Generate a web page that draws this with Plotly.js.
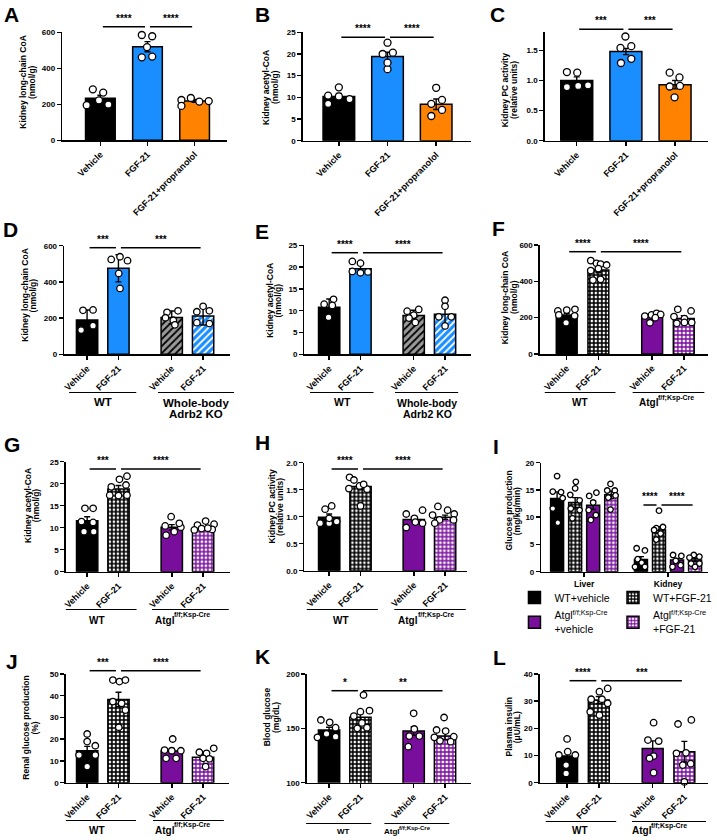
<!DOCTYPE html>
<html><head><meta charset="utf-8">
<script src="https://cdn.plot.ly/plotly-3.0.1.min.js"></script>
<style>body{margin:0;background:#fff}#chart{width:717px;height:840px}</style>
</head><body><div id="chart"></div>
<script>
// ================= DATA =================
const ABC_ticks = ['Vehicle','FGF-21','FGF-21+propranolol'];
const GRP_ticks = ['Vehicle','FGF-21','Vehicle','FGF-21'];
const I_ticks = ['Liver','Kidney'];
const GENO_SUP = 'f/f;Ksp-Cre';
const I_series = ['WT+vehicle','WT+FGF-21','Atgl<sup>' + GENO_SUP + '</sup><br>+vehicle','Atgl<sup>' + GENO_SUP + '</sup><br>+FGF-21'];
const ADRB_groups = ['WT','Whole-body','Adrb2 KO'];
const ATGL_groups = ['WT','Atgl',GENO_SUP];

const A_mean = [233, 520, 219];
const A_err = [17, 28, 8];
const A_pts = [[283,265,195,222,199],[585,578,461,465,518],[224,235,191,215,218]];
const A_jit = [[-0.16,0.06,-0.29,-0.03,0.17],[-0.12,0.10,-0.12,0.10,-0.01],[-0.28,-0.08,-0.28,0.10,0.30]];
const A_sig = [['****',0,1],['****',1,2]];

const B_mean = [10.2, 19.4, 8.4];
const B_err = [0.7, 1.0, 1.2];
const B_pts = [[12.3,10.4,10.2,9.6,8.5],[22.6,20.0,20.3,16.5,18.0],[12.2,8.5,9.4,5.7,7.1]];
const B_jit = [[0,-0.22,0,0.22,-0.22],[0,-0.10,0.11,0,0],[0,-0.10,0.12,-0.10,0.12]];
const B_sig = [['****',0,1],['****',1,2]];

const C_mean = [1.0, 1.48, 0.93];
const C_err = [0.06, 0.05, 0.07];
const C_pts = [[1.14,1.13,0.89,0.91,0.92],[1.73,1.54,1.57,1.29,1.36],[1.13,1.05,0.90,0.91,0.72]];
const C_jit = [[-0.20,0.01,-0.20,0.03,0.23],[-0.01,-0.11,0.11,-0.10,0.11],[-0.11,0.09,-0.11,0.10,-0.01]];
const C_sig = [['***',0,1],['***',1,2]];

const D_mean = [190, 475, 204, 212];
const D_err = [55, 75, 35, 50];
const D_pts = [[243,245,134,158],[524,539,517,447,364],[232,240,202,188,163],[265,235,240,175,170]];
const D_jit = [[-0.13,0.19,-0.19,0.19],[-0.23,0.05,0.29,0.01,0.05],[-0.15,0.2,-0.2,0.05,0.1],[0,-0.2,0.2,-0.2,0.2]];
const D_sig = [['***',0,1],['***',1,3]];

const E_mean = [10.8, 19.6, 8.9, 9.2];
const E_err = [1.9, 1.1, 1.2, 2.3];
const E_pts = [[11.5,12.6,8.5,11.2],[21.3,20.9,19.0,18.7,18.9],[9.9,10.3,9.0,8.3,7.3],[12.4,11.0,8.6,8.6,6.5]];
const E_jit = [[-0.16,0.14,-0.02,0.1],[-0.26,0,-0.26,0,0.24],[-0.21,0.16,0,-0.15,0.05],[0,0,-0.2,0.2,0]];
const E_sig = [['****',0,1],['****',1,3]];

const F_mean = [215, 462, 209, 196];
const F_err = [9, 15, 8, 15];
const F_pts = [[237,242,246,215,210,172],[514,499,495,490,459,470,407,411],[209,215,224,218,172,200],[246,237,206,195,174,174,169]];
const F_jit = [[-0.28,0,0.26,-0.25,0.25,-0.02],[-0.24,-0.06,0.07,0.26,-0.24,0.0,-0.17,0.07],[-0.23,-0.02,0.14,0.27,-0.07,0.1],[-0.19,0.23,-0.31,0.02,0.02,0.25,-0.22]];
const F_sig = [['****',0,1],['****',1,3]];

const G_mean = [11.6, 18.8, 10.1, 9.85];
const G_err = [0.9, 0.8, 0.6, 0.3];
const G_pts = [[14.4,14.4,11.4,11.2,9.1,9.1],[19.3,21.0,21.7,19.7,17.4,17.4,17.3],[12.5,10.4,10.1,8.3,9.1,11.0],[11.5,10.6,10.8,9.8,9.6,9.5,9.9]];
const G_jit = [[-0.07,0.19,-0.18,0.19,-0.1,0.21],[-0.23,0.03,0.27,0.24,0.27,-0.28,0.0],[-0.02,-0.21,0.29,-0.18,0.08,0.24],[0.08,-0.18,0.35,-0.05,0.29,-0.28,0.15]];
const G_sig = [['***',0,1],['****',1,3]];

const H_mean = [0.99, 1.56, 0.95, 0.99];
const H_err = [0.06, 0.06, 0.05, 0.04];
const H_pts = [[1.14,1.2,0.88,0.88,0.91,0.97],[1.73,1.68,1.57,1.51,1.52,1.2,1.6],[1.05,1.12,0.97,0.8,0.88,0.9],[1.19,1.12,1.05,1.03,0.94,0.94,0.88]];
const H_jit = [[-0.13,0.08,-0.29,0.0,0.24,0],[-0.35,-0.21,-0.03,0.21,-0.37,0.0,0.1],[-0.24,0.28,0.02,-0.24,0.28,0.05],[-0.23,0.08,0.29,-0.4,-0.18,0.27,-0.33]];
const H_sig = [['****',0,1],['****',1,3]];

// I: per series [liver, kidney]
const I_mean = [[13.45,2.26],[12.7,7.65],[12.2,2.14],[14.1,2.14]];
const I_err = [[1.2,0.5],[0.9,0.6],[0.8,0.3],[0.7,0.3]];
const I_pts = [
  [[17.55,14.7,14.6,13.5,11.6,9.0],[4.3,3.9,2.3,1.65,0.9,0.9]],
  [[16.5,15.3,14.1,13.1,11.6,11.3,9.8],[11.2,8.0,8.2,7.65,7.0,5.9]],
  [[14.5,13.9,12.7,11.3,10.4,9.5],[3.06,2.9,2.0,1.2,0.9]],
  [[16.1,14.9,14.9,13.6,14.0,11.4],[3.06,2.6,2.75,1.5,1.5,0.9]]
];
const I_jit = [
  [[0,-0.24,0.22,0.31,-0.24,0.04],[-0.24,0.22,-0.18,0.04,-0.33,0.22]],
  [[0.04,0,-0.27,0.25,-0.24,0.25,-0.15],[0,-0.15,0.22,-0.27,0.09,-0.15]],
  [[0.18,-0.22,0,-0.25,0.15,-0.13],[-0.22,0.24,-0.07,0.2,-0.25]],
  [[-0.04,-0.22,0.2,-0.16,0.24,-0.04],[-0.07,-0.31,0.24,-0.22,0.24,0]]
];
const I_sig = [['****',4.65,5.65],['****',5.65,7.65]];

const J_mean = [14.7, 38.3, 14.6, 11.7];
const J_err = [2.0, 3.3, 1.2, 1.4];
const J_pts = [[22.4,18.9,17.0,12.7,12.7,7.4],[47.2,46.5,47.2,37.3,36.5,33.4,25.5],[20.1,15.0,14.7,14.7,11.2,11.2],[15.8,13.5,14.0,11.2,11.0,7.4]];
const J_jit = [[0,0,0.26,-0.26,0.26,0],[-0.18,0.03,0.22,-0.18,0.1,0.22,0.01],[0.03,-0.23,0,0.29,-0.18,0.14],[0.34,0.11,-0.12,0.0,0.2,0.08]];
const J_sig = [['***',0,1],['****',1,3]];

const K_mean = [148.5, 160.1, 147.5, 143];
const K_err = [2.5, 3.2, 4, 3.2];
const K_pts = [[157.7,155.5,150.6,141.7,142.3,145],[180.7,165.3,166.3,161.3,150,150.6,155],[163.8,149.4,142.9,142.9,133.1],[160,148.5,147.5,141.7,142.3,138.5,137.7]];
const K_jit = [[-0.26,0.02,0.21,-0.37,0.21,-0.08],[0.1,0,0.29,-0.21,-0.1,0.21,0.05],[0,0.02,-0.14,0.18,-0.17],[-0.03,-0.27,0.02,-0.34,0.28,-0.16,0.18]];
const K_sig = [['*',0,1],['**',1,3]];

const L_mean = [9.8, 30.4, 12.6, 11.4];
const L_err = [1.7, 1.3, 2.8, 3.8];
const L_pts = [[16.1,11.4,10.2,10.2,6.5,3.4],[34.7,33.5,30.7,30.7,29.2,26.1,24.9],[22.1,15.7,15.3,9.8,3.7,9.0],[21.6,23.1,11.0,10.8,7.0,6.5,0.3]];
const L_jit = [[0,0.02,-0.26,0.26,-0.03,-0.03],[0.28,0.02,-0.24,0.1,0.28,-0.27,0.02],[0.03,-0.15,0.19,0.03,0.03,-0.1],[-0.2,0.22,0.05,-0.25,0.2,-0.05,0.0]];
const L_sig = [['****',0,1],['***',1,3]];

// ================= STYLE / GEOMETRY =================
const W = 717, H = 840;
const FONT = 'Liberation Sans, Arial, sans-serif';
const BLUE = '#1B8EFF', ORANGE = '#FF8200', PURPLE = '#7A0E9C', GRAY = '#9a9a9a';
const ST = {
  black: {color:'#000'},
  blue: {color:BLUE},
  orange: {color:ORANGE},
  purple: {color:PURPLE},
  hatchGray: {color:GRAY, pattern:{shape:'/', fgcolor:'#000', bgcolor:GRAY, size:5, solidity:0.35}},
  hatchBlue: {color:BLUE, pattern:{shape:'/', fgcolor:'#fff', bgcolor:BLUE, size:5, solidity:0.35}},
  checkBlack: {color:'#555', pattern:{shape:'+', fgcolor:'#000', bgcolor:'#fff', size:4, solidity:0.66}},
  checkPurple: {color:'#b070c8', pattern:{shape:'+', fgcolor:PURPLE, bgcolor:'#fff', size:4, solidity:0.6}}
};
const POS3 = [0,1,2], POS4 = [0,1,2.7,3.7];

// group label placement: [x, y, fontsize, xanchor] per entry of the groups text array
const ATGL_place = (wtx, split, y, fs, sfs) => [[wtx,y,fs,'center'],[split+2.5,y,fs,'right'],[split-2.5,y-0.5*fs,sfs,'left']];

const PANELS = [
 {id:'A', L:63, R:230, T:32.3, B:140.3, xr:[-0.81,2.69], yr:[0,600], yt:[0,200,400,600], pos:POS3, bw:0.63, ms:7,
  ticks:ABC_ticks, mean:A_mean, err:A_err, pts:A_pts, jit:A_jit, sig:A_sig, sigY:26.7, styles:['black','blue','orange'],
  ytitle:['Kidney long-chain CoA','(nmol/g)'], yx:[23,32.5], yy:82, letter:[2,5]},
 {id:'B', L:306.7, R:476.7, T:32.3, B:140.7, xr:[-0.74,2.71], yr:[0,25], yt:[0,5,10,15,20,25], pos:POS3, bw:0.65, ms:7,
  ticks:ABC_ticks, mean:B_mean, err:B_err, pts:B_pts, jit:B_jit, sig:B_sig, sigY:37.3, styles:['black','blue','orange'],
  ytitle:['Kidney acetyl-CoA','(nmol/g)'], yx:[269.3,278.5], yy:87, letter:[256,5]},
 {id:'C', L:551.7, R:716.5, T:32.3, B:140.7, xr:[-0.65,2.66], yr:[0,1.8], yt:[0,0.5,1,1.5], ytt:['0.0','0.5','1.0','1.5'], pos:POS3, bw:0.65, ms:7,
  ticks:ABC_ticks, mean:C_mean, err:C_err, pts:C_pts, jit:C_jit, sig:C_sig, sigY:29.3, styles:['black','blue','orange'],
  ytitle:['Kidney PC activity','(relative units)'], yx:[511.7,520.5], yy:90, letter:[494,5]},
 {id:'D', L:65, R:233.3, T:245.7, B:354.3, xr:[-0.73,4.57], yr:[0,600], yt:[0,200,400,600], pos:POS4, bw:0.68, ms:6.5,
  ticks:GRP_ticks, mean:D_mean, err:D_err, pts:D_pts, jit:D_jit, sig:D_sig, sigY:247.7, styles:['black','blue','hatchGray','hatchBlue'],
  ytitle:['Kidney long-chain CoA','(nmol/g)'], yx:[25,33.8], yy:295, letter:[1,220],
  groups:ADRB_groups, gl:[[70,138],[160,237]], gy:392.5, gtxt:[[104,401.7,11.5,'center'],[198,402.5,11.5,'center'],[198,414,11.5,'center']]},
 {id:'E', L:308.3, R:476.7, T:245.3, B:354.3, xr:[-0.79,4.52], yr:[0,25], yt:[0,5,10,15,20,25], pos:POS4, bw:0.68, ms:6.5,
  ticks:GRP_ticks, mean:E_mean, err:E_err, pts:E_pts, jit:E_jit, sig:E_sig, sigY:252.7, styles:['black','blue','hatchGray','hatchBlue'],
  ytitle:['Kidney acetyl-CoA','(nmol/g)'], yx:[273.3,282], yy:300, letter:[256,222],
  groups:ADRB_groups, gl:[[314,378.3],[400,464]], gy:392.5, gtxt:[[346.7,402.3,10.5,'center'],[432.7,402.5,10.5,'center'],[432.7,413.5,10.5,'center']]},
 {id:'F', L:546.7, R:716.5, T:245, B:354, xr:[-0.85,4.45], yr:[0,600], yt:[0,200,400,600], pos:POS4, bw:0.66, ms:6.5,
  ticks:GRP_ticks, mean:F_mean, err:F_err, pts:F_pts, jit:F_jit, sig:F_sig, sigY:251.7, styles:['black','checkBlack','purple','checkPurple'],
  ytitle:['Kidney long-chain CoA','(nmol/g)'], yx:[511.7,520.5], yy:297, letter:[496,219],
  groups:ATGL_groups, gl:[[551.7,623.3],[640.7,713.3]], gy:392.5, gtxt:ATGL_place(587.3,666.7,402.7,10,7)},
 {id:'G', L:66.7, R:233.3, T:461.7, B:571.7, xr:[-0.68,4.57], yr:[0,25], yt:[0,5,10,15,20,25], pos:POS4, bw:0.68, ms:6.5,
  ticks:GRP_ticks, mean:G_mean, err:G_err, pts:G_pts, jit:G_jit, sig:G_sig, sigY:469, styles:['black','checkBlack','purple','checkPurple'],
  ytitle:['Kidney acetyl-CoA','(nmol/g)'], yx:[28.3,36.8], yy:505, letter:[2,435],
  groups:ATGL_groups, gl:[[66.7,138.3],[154,231.7]], gy:609.5, gtxt:ATGL_place(98.3,176.7,620,10,7)},
 {id:'H', L:308.3, R:473.3, T:462.7, B:570.7, xr:[-0.79,4.41], yr:[0,2], yt:[0,0.5,1,1.5,2], ytt:['0.0','0.5','1.0','1.5','2.0'], pos:POS4, bw:0.68, ms:6.5,
  ticks:GRP_ticks, mean:H_mean, err:H_err, pts:H_pts, jit:H_jit, sig:H_sig, sigY:469, styles:['black','checkBlack','purple','checkPurple'],
  ytitle:['Kidney PC activity','(relative units)'], yx:[275,283.5], yy:507, letter:[256,433],
  groups:ATGL_groups, gl:[[310.7,382.7],[399.3,471.7]], gy:609.5, gtxt:ATGL_place(345,423.3,620,10,7)},
 {id:'I', L:548.3, R:716.5, T:462.7, B:571.7, xr:[-0.87,8.34], yr:[0,20], yt:[0,5,10,15,20], ms:5.5, bw:0.72,
  ipos:[[0,4.65],[1,5.65],[2,6.65],[3,7.65]], itick:[1.5,6.15], sig:I_sig, sigY:505, styles:['black','checkBlack','purple','checkPurple'],
  ytitle:['Glucose production','(mg/kg/min)'], yx:[515,523.8], yy:511, letter:[497,437],
  legX:[521,621]},
 {id:'J', L:66.7, R:231.7, T:674, B:782.7, xr:[-0.68,4.52], yr:[0,50], yt:[0,10,20,30,40,50], pos:POS4, bw:0.68, ms:6.5,
  ticks:GRP_ticks, mean:J_mean, err:J_err, pts:J_pts, jit:J_jit, sig:J_sig, sigY:670.7, styles:['black','checkBlack','purple','checkPurple'],
  ytitle:['Renal glucose production','(%)'], yx:[26,35], yy:728, letter:[4,652],
  groups:ATGL_groups, gl:[[66.7,137.7],[155,226.7]], gy:820.5, gtxt:ATGL_place(98.3,176.7,830,10,7)},
 {id:'K', L:310.7, R:476.7, T:674, B:782.7, xr:[-0.71,4.52], yr:[100,200], yt:[100,150,200], pos:POS4, bw:0.68, ms:6.5,
  ticks:GRP_ticks, mean:K_mean, err:K_err, pts:K_pts, jit:K_jit, sig:K_sig, sigY:690.7, styles:['black','checkBlack','purple','checkPurple'],
  ytitle:['Blood glucose','(mg/dL)'], yx:[270.7,279.5], yy:717, letter:[256,647],
  groups:ATGL_groups, gl:[[310,376],[389.3,455]], gy:823.5, gtxt:ATGL_place(348.3,405,831.7,8,6)},
 {id:'L', L:546.7, R:716.5, T:674, B:782.7, xr:[-0.86,4.43], yr:[0,40], yt:[0,10,20,30,40], pos:POS4, bw:0.66, ms:6.5,
  ticks:GRP_ticks, mean:L_mean, err:L_err, pts:L_pts, jit:L_jit, sig:L_sig, sigY:680.7, styles:['black','checkBlack','purple','checkPurple'],
  ytitle:['Plasma insulin','(\u03bcU/mL)'], yx:[515,523.8], yy:727, letter:[497,648],
  groups:ATGL_groups, gl:[[552.7,624],[640,715]], gy:821.5, gtxt:ATGL_place(587.3,660,830.7,10,7)}
];

// ================= BUILD =================
const data = [];
const LEGFONT = {size:10.5, family:FONT, color:'#000'};
const PI = PANELS.find(p => p.id === 'I');
const legendBase = {xanchor:'left', y:1-583/H, yanchor:'top', bgcolor:'rgba(0,0,0,0)', font:LEGFONT, itemwidth:30, tracegroupgap:0, itemclick:false, itemdoubleclick:false};
const layout = {
  width:W, height:H, margin:{l:0,r:0,t:0,b:0}, barmode:'overlay',
  paper_bgcolor:'#fff', plot_bgcolor:'rgba(0,0,0,0)',
  font:{family:FONT, color:'#000'}, shapes:[], annotations:[], showlegend:true,
  legend:Object.assign({x:PI.legX[0]/W}, legendBase),
  legend2:Object.assign({x:PI.legX[1]/W}, legendBase)
};
const ny = v => 1 - v/H, nx = v => v/W;
const BOLD = {family:FONT, weight:'bold', color:'#000'};

function barMarker(st){
  const s = ST[st];
  const m = {color:s.color, line:{color:'#000', width:1.5}};
  if (s.pattern) m.pattern = Object.assign({fillmode:'replace'}, s.pattern);
  return m;
}
function ptMarker(ms){ return {symbol:'circle', size:ms, color:'#fff', line:{color:'#000', width:1.3}}; }
function errObj(v){ return {type:'data', array:v, color:'#000', thickness:1.4, width:3, visible:true}; }
function ann(x, y, text, font, extra){
  return Object.assign({xref:'paper', yref:'paper', x:nx(x), y:ny(y), xanchor:'center', yanchor:'middle', text:text, showarrow:false, font:font}, extra || {});
}

PANELS.forEach((p, i) => {
  const n = i + 1, sfx = n === 1 ? '' : n;
  const xa = 'x' + sfx, ya = 'y' + sfx;
  const isI = p.id === 'I';
  const toPx = v => p.L + (v - p.xr[0]) / (p.xr[1] - p.xr[0]) * (p.R - p.L);
  layout['xaxis' + sfx] = {
    domain:[nx(p.L), nx(p.R)], range:p.xr, anchor:ya, fixedrange:true,
    tickmode:'array', tickvals: isI ? p.itick : p.pos, ticktext: isI ? I_ticks : p.ticks,
    tickangle: isI ? 0 : -45, tickfont:Object.assign({size: isI ? 8.5 : 9}, BOLD),
    showline:true, linecolor:'#000', linewidth:1.5, ticks:'outside', ticklen:4, tickwidth:1.5, tickcolor:'#000',
    showgrid:false, zeroline:false, automargin:false
  };
  layout['yaxis' + sfx] = {
    domain:[ny(p.B), ny(p.T)], range:p.yr, anchor:xa, fixedrange:true,
    tickmode:'array', tickvals:p.yt, ticktext: p.ytt || p.yt.map(String),
    tickfont:Object.assign({size:8}, BOLD),
    showline:true, linecolor:'#000', linewidth:1.5, ticks:'outside', ticklen:4, tickwidth:1.5, tickcolor:'#000',
    showgrid:false, zeroline:false, automargin:false
  };
  if (isI) {
    I_series.forEach((name, s) => {
      data.push({type:'bar', name:name, x:p.ipos[s], y:I_mean[s], width:[p.bw,p.bw], xaxis:xa, yaxis:ya,
        marker:barMarker(p.styles[s]), error_y:errObj(I_err[s]), hoverinfo:'skip',
        legend: (s % 2 === 0) ? 'legend' : 'legend2', showlegend:true});
    });
    I_series.forEach((name, s) => {
      [0,1].forEach(k => {
        data.push({type:'scatter', mode:'markers', x:I_pts[s][k].map((v,j)=>p.ipos[s][k] + I_jit[s][k][j]), y:I_pts[s][k],
          xaxis:xa, yaxis:ya, marker:ptMarker(p.ms), showlegend:false, hoverinfo:'skip', cliponaxis:false});
      });
    });
  } else {
    p.mean.forEach((m, k) => {
      data.push({type:'bar', x:[p.pos[k]], y:[m], width:[p.bw], xaxis:xa, yaxis:ya,
        marker:barMarker(p.styles[k]), error_y:errObj([p.err[k]]), showlegend:false, hoverinfo:'skip'});
    });
    p.pts.forEach((arr, k) => {
      data.push({type:'scatter', mode:'markers', x:arr.map((v,j)=>p.pos[k] + p.jit[k][j]), y:arr,
        xaxis:xa, yaxis:ya, marker:ptMarker(p.ms), showlegend:false, hoverinfo:'skip', cliponaxis:false});
    });
  }
  // significance
  p.sig.forEach(([txt, a, b]) => {
    const ca = isI ? a : p.pos[a], cb = isI ? b : p.pos[b];
    const x0 = toPx(ca) + 2.5, x1 = toPx(cb) - 2.5;
    layout.shapes.push({type:'line', xref:'paper', yref:'paper', x0:nx(x0), x1:nx(x1), y0:ny(p.sigY), y1:ny(p.sigY), line:{color:'#000', width:1.5}});
    layout.annotations.push(ann((x0+x1)/2, p.sigY - 1, txt, Object.assign({size:10}, BOLD), {yanchor:'bottom'}));
  });
  // y title (two single-line texts)
  p.ytitle.forEach((t, k) => {
    layout.annotations.push(ann(p.yx[k], p.yy, t, Object.assign({size:8.5}, BOLD), {textangle:-90}));
  });
  // panel letter
  layout.annotations.push(ann(p.letter[0], p.letter[1] - 4, p.id, Object.assign({size:21}, BOLD), {xanchor:'left', yanchor:'top'}));
  // group labels
  if (p.groups) {
    p.gl.forEach(seg => {
      layout.shapes.push({type:'line', xref:'paper', yref:'paper', x0:nx(seg[0]), x1:nx(seg[1]), y0:ny(p.gy), y1:ny(p.gy), line:{color:'#000', width:1.2}});
    });
    p.groups.forEach((t, k) => {
      const [x, y, fs, xa2] = p.gtxt[k];
      layout.annotations.push(ann(x, y, t, Object.assign({size:fs}, BOLD), {xanchor:xa2}));
    });
  }
});

Plotly.newPlot('chart', data, layout, {staticPlot:true});
</script></body></html>
